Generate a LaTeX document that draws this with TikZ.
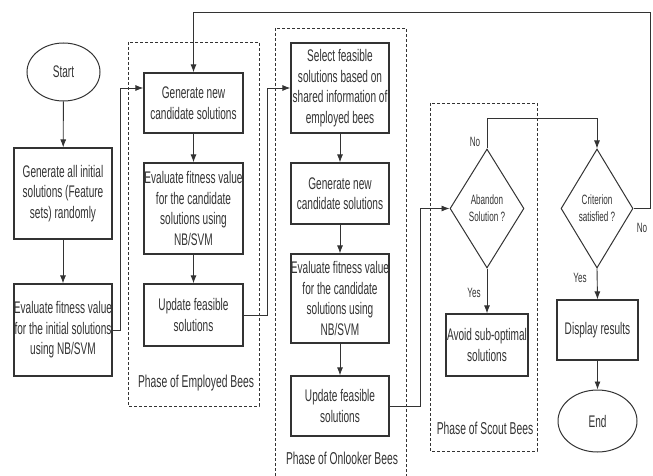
\documentclass[tikz,border=0pt]{standalone}
\usepackage{fontspec}
\setmainfont[FakeStretch=0.6]{Liberation Sans}
\usepackage{tikz}
\usetikzlibrary{arrows,arrows.meta,positioning,shapes.geometric}
\definecolor{ink}{HTML}{333333}

\begin{document}
\begin{tikzpicture}[x=1pt, y=-1pt]
%\draw[very thin, color = gray](0, 0) grid[step=50] (653, 476);
\useasboundingbox (0, 0) rectangle (653, 476);
\tikzstyle{block} = [draw = ink, rectangle, line width = 1.2pt, align = center,
  text = ink, font = \fontsize{16.8}{20.5}\selectfont, inner sep = 0pt];
\tikzstyle{term} = [draw = ink, ellipse, line width = 1pt, text = ink,
  font = \fontsize{16.8}{20.5}\selectfont, inner sep = 0pt];
\tikzstyle{decision} = [draw = ink, diamond, aspect = 0.6, line width = 1pt,
  align = center, text = ink, font = \fontsize{13.5}{17}\selectfont, inner sep = 0pt];
\tikzstyle{phase} = [draw = ink, line width = 0.8pt, dash pattern = on 3pt off 2pt]
\tikzstyle{line} = [draw = ink, -{Latex[length=8pt, width=6pt]}, line width = 0.9pt]
\tikzstyle{tag} = [text = ink, font = \fontsize{13.5}{15}\selectfont]
\tikzstyle{phasename} = [text = ink, font = \fontsize{17.2}{20}\selectfont]
% dashed phase frames
\draw [phase] (128, 42) rectangle (259, 406);
\draw [phase] (275, 28) rectangle (406, 482);
\draw [phase] (430, 103) rectangle (537, 451);
\node [phasename] at (196, 383) (pemp) {Phase of Employed Bees};
\node [phasename] at (342, 458) (ponl) {Phase of Onlooker Bees};
\node [phasename] at (485, 428) (psct) {Phase of Scout Bees};
% initialisation
\node [term, minimum width = 73pt, minimum height = 58pt] at (63.5, 72) (start) {Start};
\node [block, minimum width = 98pt, minimum height = 91pt] at (63, 193.5) (init) {Generate all initial \\ solutions (Feature \\ sets) randomly};
\node [block, minimum width = 98pt, minimum height = 92pt] at (63, 330) (evalinit) {Evaluate fitness value \\ for the initial solutions \\ using NB/SVM};
% employed bees
\node [block, minimum width = 99pt, minimum height = 60pt] at (193.5, 103) (genemp) {Generate new \\ candidate solutions};
\node [block, minimum width = 99pt, minimum height = 91pt] at (193.5, 208.5) (evalemp) {Evaluate fitness value \\ for the candidate \\ solutions using \\ NB/SVM};
\node [block, minimum width = 99pt, minimum height = 62pt] at (193.5, 315) (updemp) {Update feasible \\ solutions};
% onlooker bees
\node [block, minimum width = 98pt, minimum height = 90pt] at (340, 88) (select) {Select feasible \\ solutions based on \\ shared information of \\ employed bees};
\node [block, minimum width = 98pt, minimum height = 61pt] at (340, 193.5) (genonl) {Generate new \\ candidate solutions};
\node [block, minimum width = 98pt, minimum height = 89pt] at (340, 298.5) (evalonl) {Evaluate fitness value \\ for the candidate \\ solutions using \\ NB/SVM};
\node [block, minimum width = 98pt, minimum height = 60pt] at (340, 406) (updonl) {Update feasible \\ solutions};
% scout bees and termination
\node [decision, minimum width = 74pt, minimum height = 119pt] at (487, 208.5) (abandon) {Abandon \\ Solution ?};
\node [block, minimum width = 82pt, minimum height = 62pt] at (487, 345) (avoid) {Avoid sub-optimal \\ solutions};
\node [decision, minimum width = 72pt, minimum height = 119pt] at (597, 208.5) (crit) {Criterion \\ satisfied ?};
\node [block, minimum width = 81pt, minimum height = 60pt] at (597.5, 330) (disp) {Display results};
\node [term, minimum width = 79pt, minimum height = 62pt] at (597.5, 421) (end) {End};
\node [tag] at (475, 142) (no1) {No};
\node [tag] at (474, 293) (yes1) {Yes};
\node [tag] at (580, 278) (yes2) {Yes};
\node [tag] at (642, 228) (no2) {No};
\coordinate (j1) at (120, 88);
\coordinate (j2) at (267, 88);
\coordinate (j3) at (420, 208.5);
\coordinate (j4) at (487, 118);
\coordinate (j5) at (650, 12);
\path [line] (start) -- (init);
\path [line] (init) -- (evalinit);
\path [line] (evalinit.east) -| (j1) -- (j1 -| genemp.west);
\path [line] (genemp) -- (evalemp);
\path [line] (evalemp) -- (updemp);
\path [line] (updemp.east) -| (j2) -- (select.west);
\path [line] (select) -- (genonl);
\path [line] (genonl) -- (evalonl);
\path [line] (evalonl) -- (updonl);
\path [line] (updonl.east) -| (j3) -- (abandon.west);
\path [line] (abandon.south) -- (avoid.north);
\path [line] (abandon.north) -- (j4) -| (crit.north);
\path [line] (crit.south) -- (disp.north);
\path [line] (crit.east) -| (j5) -| (genemp.north);
\path [line] (disp) -- (end);
\end{tikzpicture}
\end{document}
